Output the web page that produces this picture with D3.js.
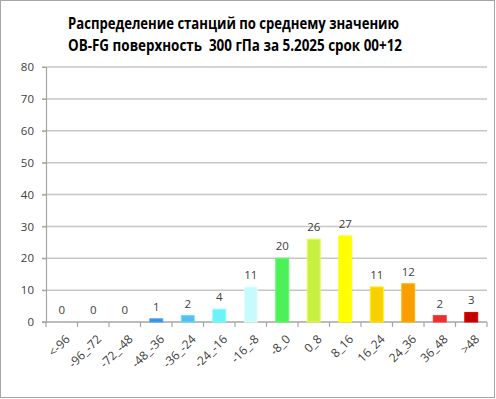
<!DOCTYPE html>
<html>
<head>
<meta charset="utf-8">
<script src="https://cdn.jsdelivr.net/npm/d3@7"></script>
<style>
  html, body { margin: 0; padding: 0; background: #fff; }
  svg { display: block; }
  text { font-family: "Open Sans", "Noto Sans", sans-serif; fill: #404040; }
</style>
</head>
<body>
<svg id="chart"></svg>
<script>
// chart data
const categories = ["<-96", "-96_-72", "-72_-48", "-48_-36", "-36_-24", "-24_-16", "-16_-8",
    "-8_0", "0_8", "8_16", "16_24", "24_36", "36_48", ">48"]
const counts = [0, 0, 0, 1, 2, 4, 11, 20, 26, 27, 11, 12, 2, 3]
const barColors = ["#3d8fd6", "#3d8fd6", "#3d8fd6", "#3d8fd6", "#55c0ee", "#6ef2fa", "#c6fbfd",
    "#4cf058", "#c8f042", "#ffff00", "#f7d000", "#f89e00", "#f02c2c", "#c00000"]
const yTicks = [0, 10, 20, 30, 40, 50, 60, 70, 80]
const titleLines = ["Распределение станций по среднему значению",
    "OB-FG поверхность  300 гПа за 5.2025 срок 00+12"]

const W = 496, H = 399
const margin = {top: 67, right: 9, bottom: 77, left: 46}

const svg = d3.select("#chart")
    .attr("width", W)
    .attr("height", H)

// outer frame
svg.append("rect")
    .attr("x", 0.5).attr("y", 0.5)
    .attr("width", W - 2).attr("height", H - 2)
    .attr("fill", "#fff")
    .attr("stroke", "#a6a6a6")

const fx = d3.scaleBand()
    .domain(categories)
    .range([margin.left, W - margin.right])
    .paddingInner(0.59)
    .paddingOuter(0.295)
const fy = d3.scaleLinear()
    .domain([0, 80])
    .range([H - margin.bottom, margin.top])

// gridlines
svg.append("g")
    .selectAll("line")
    .data(yTicks.slice(1))
    .join("line")
    .attr("x1", margin.left - 4)
    .attr("x2", W - margin.right)
    .attr("y1", d => fy(d))
    .attr("y2", d => fy(d))
    .attr("stroke", "#c6c6c6")
    .attr("stroke-width", 1.5)

// y axis
const yAxis = svg.append("g")
    .attr("transform", "translate(" + margin.left + ",0)")
    .call(d3.axisLeft(fy).tickValues(yTicks).tickSize(4).tickPadding(8))
yAxis.select(".domain").attr("stroke", "#a6a6a6").attr("stroke-width", 1.2)
yAxis.selectAll(".tick line").attr("stroke", "#a6a6a6").attr("stroke-width", 1.2)
yAxis.selectAll("text").attr("font-size", 11.5).attr("fill", "#404040")
    .attr("font-family", "'Open Sans', sans-serif")

// x axis with ticks at band boundaries
const step = fx.step()
const xg = svg.append("g")
    .attr("transform", "translate(0," + fy(0) + ")")
xg.append("line")
    .attr("x1", margin.left - 4).attr("x2", W - margin.right)
    .attr("stroke", "#a6a6a6").attr("stroke-width", 1.5)
xg.selectAll("line.tk")
    .data(d3.range(categories.length + 1))
    .join("line")
    .attr("class", "tk")
    .attr("x1", i => margin.left + i * step)
    .attr("x2", i => margin.left + i * step)
    .attr("y1", 0).attr("y2", 5)
    .attr("stroke", "#a6a6a6").attr("stroke-width", 1.2)
xg.selectAll("text")
    .data(categories)
    .join("text")
    .attr("transform", d => "translate(" + (fx(d) + fx.bandwidth() / 2 + 3) + ",12) rotate(-45)")
    .attr("text-anchor", "end")
    .attr("dy", "0.7em")
    .attr("font-size", 12)
    .text(d => d)

// bars
const bars = categories.map((c, i) => ({c: c, v: counts[i], col: barColors[i]}))
svg.append("g")
    .selectAll("rect")
    .data(bars)
    .join("rect")
    .attr("x", d => fx(d.c))
    .attr("width", fx.bandwidth())
    .attr("y", d => fy(d.v))
    .attr("height", d => fy(0) - fy(d.v))
    .attr("fill", d => d.col)
    .attr("stroke", d => d3.color(d.col).brighter(0.4))
    .attr("stroke-width", 1)

// value labels
svg.append("g")
    .selectAll("text")
    .data(bars)
    .join("text")
    .attr("x", d => fx(d.c) + fx.bandwidth() / 2)
    .attr("y", d => fy(d.v) - 8)
    .attr("text-anchor", "middle")
    .attr("font-size", 11.5)
    .text(d => d.v)

// title
svg.append("g")
    .selectAll("text")
    .data(titleLines)
    .join("text")
    .attr("x", 68)
    .attr("y", (d, i) => 29 + i * 22)
    .attr("font-size", 16)
    .attr("font-weight", "bold")
    .style("fill", "#000")
    .style("white-space", "pre")
    .attr("textLength", (d, i) => i == 0 ? 331 : 334)
    .attr("lengthAdjust", "spacingAndGlyphs")
    .text(d => d)
</script>
</body>
</html>
